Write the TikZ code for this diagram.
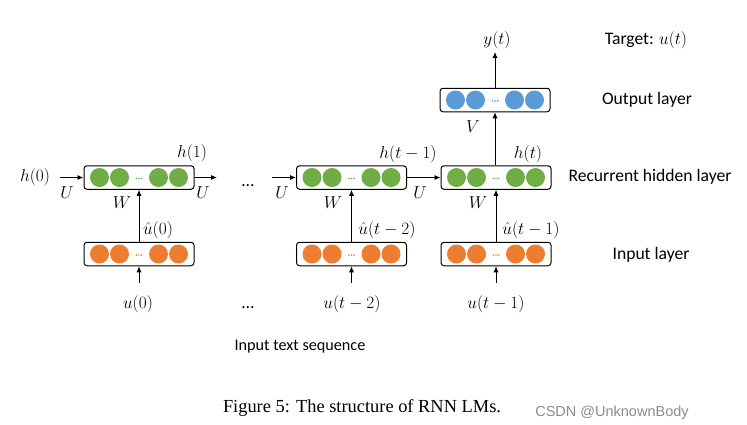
\documentclass[tikz,border=0pt]{standalone}
\usepackage{amsmath}
\usepackage{amssymb}
\usepackage{fontspec}
\newfontfamily\calib{Carlito}
\newfontfamily\timesf{Liberation Serif}
\newfontfamily\arialf{Liberation Sans}
\usepackage{tikz}
\usetikzlibrary{arrows.meta}

\definecolor{hidgreen}{RGB}{112,173,71}
\definecolor{inorange}{RGB}{237,125,49}
\definecolor{outblue}{RGB}{91,155,213}
\definecolor{wmgray}{RGB}{140,140,140}

\tikzset{
  layerbox/.style={draw, line width=1pt, rounded corners=3pt, fill=white,
    minimum width=110pt, minimum height=23.5pt, inner sep=0pt},
  arr/.style={-{Latex[length=6pt,width=5pt]}, line width=0.9pt},
  mlab/.style={inner sep=0pt, font=\fontsize{17.28}{20}\selectfont},
  slab/.style={inner sep=0pt, font=\calib\fontsize{17.6}{20}\selectfont},
}

\begin{document}
\begin{tikzpicture}[x=1pt,y=-1pt]
    \fill[white] (0,0) rectangle (747,424);
    % layer boxes with units
    \foreach \nm/\cx/\cy/\col in {b1/139/177.5/hidgreen, b2/351.5/177.5/hidgreen,
        b3/496/177.5/hidgreen, i1/139/254/inorange, i2/351.5/254/inorange,
        i3/496/254/inorange, o1/495/100/outblue} {
      \node[layerbox] (\nm) at (\cx,\cy) {};
      \foreach \dx in {-39.5,-19.5,19.5,39.5}
        \fill[\col] (\cx+\dx,\cy) circle (9.5);
      \foreach \dx in {-2.6,0,2.6}
        \fill[\col] (\cx+\dx,\cy+1) circle (0.9);
    }

    % free ends
    \coordinate (s0) at (60,177.5);
    \coordinate (e1) at (217,177.5);
    \coordinate (s2) at (272,177.5);
    \coordinate (ytop) at (495,52);
    \coordinate (u0s) at (139,283);
    \coordinate (u2s) at (351.5,283);
    \coordinate (u3s) at (496,283);

    % connectors
    \draw[arr] (s0) -- (b1.west);
    \draw[arr] (b1.east) -- (e1);
    \draw[arr] (s2) -- (b2.west);
    \draw[arr] (b2.east) -- (b3.west);
    \draw[arr] (b3.north -| o1) -- (o1.south);
    \draw[arr] (o1.north) -- (ytop);
    \draw[arr] (i1.north) -- (b1.south);
    \draw[arr] (i2.north) -- (b2.south);
    \draw[arr] (i3.north) -- (b3.south);
    \draw[arr] (u0s) -- (i1.south);
    \draw[arr] (u2s) -- (i2.south);
    \draw[arr] (u3s) -- (i3.south);

    % labels
    \node[mlab] (lh0) at (35,177) {$h(0)$};
    \node[mlab] (lu1) at (67,193) {$U$};
    \node[mlab] (lh1) at (192,153) {$h(1)$};
    \node[mlab] (lu2) at (203,193) {$U$};
    \node[mlab] (lu3) at (282,193) {$U$};
    \node[mlab] (lhtm) at (408,154) {$h(t-1)$};
    \node[mlab] (lu4) at (420,193) {$U$};
    \node[mlab] (lht) at (528,154) {$h(t)$};
    \node[mlab] (lv) at (473,127) {$V$};
    \node[mlab] (lyt) at (497,40) {$y(t)$};
    \node[mlab] (lw1) at (122,203) {$W$};
    \node[mlab] (lw2) at (333,203) {$W$};
    \node[mlab] (lw3) at (478,203) {$W$};
    \node[mlab] (lx0) at (158,230) {$\hat{u}(0)$};
    \node[mlab] (lx2) at (387,230) {$\hat{u}(t-2)$};
    \node[mlab] (lx3) at (531,230) {$\hat{u}(t-1)$};
    \node[mlab] (lin0) at (138,304) {$u(0)$};
    \node[mlab] (lin2) at (352,304) {$u(t-2)$};
    \node[mlab] (lin3) at (496,304) {$u(t-1)$};
    \node[slab, anchor=base] (dots1) at (248,186) {…};
    \node[slab, anchor=base] (dots2) at (248,308) {…};

    % layer names
    \node[slab] (ltarget) at (646,40) {Target: $u(t)$};
    \node[slab] (lout) at (647,100) {Output layer};
    \node[slab] (lhid) at (650,177) {Recurrent hidden layer};
    \node[slab] (linp) at (651,255) {Input layer};
    \node[slab, font=\calib\fontsize{16.2}{20}\selectfont] (lseq) at (300,347) {Input text sequence};

    % caption
    \node[inner sep=0pt, font=\timesf\fontsize{18.4}{22}\selectfont] (cap) at (362,408) {Figure 5: The structure of RNN LMs.};
    \node[inner sep=0pt, text=wmgray, font=\arialf\fontsize{14.5}{17}\selectfont] (wm) at (612,413) {CSDN @UnknownBody};
\end{tikzpicture}
\end{document}
